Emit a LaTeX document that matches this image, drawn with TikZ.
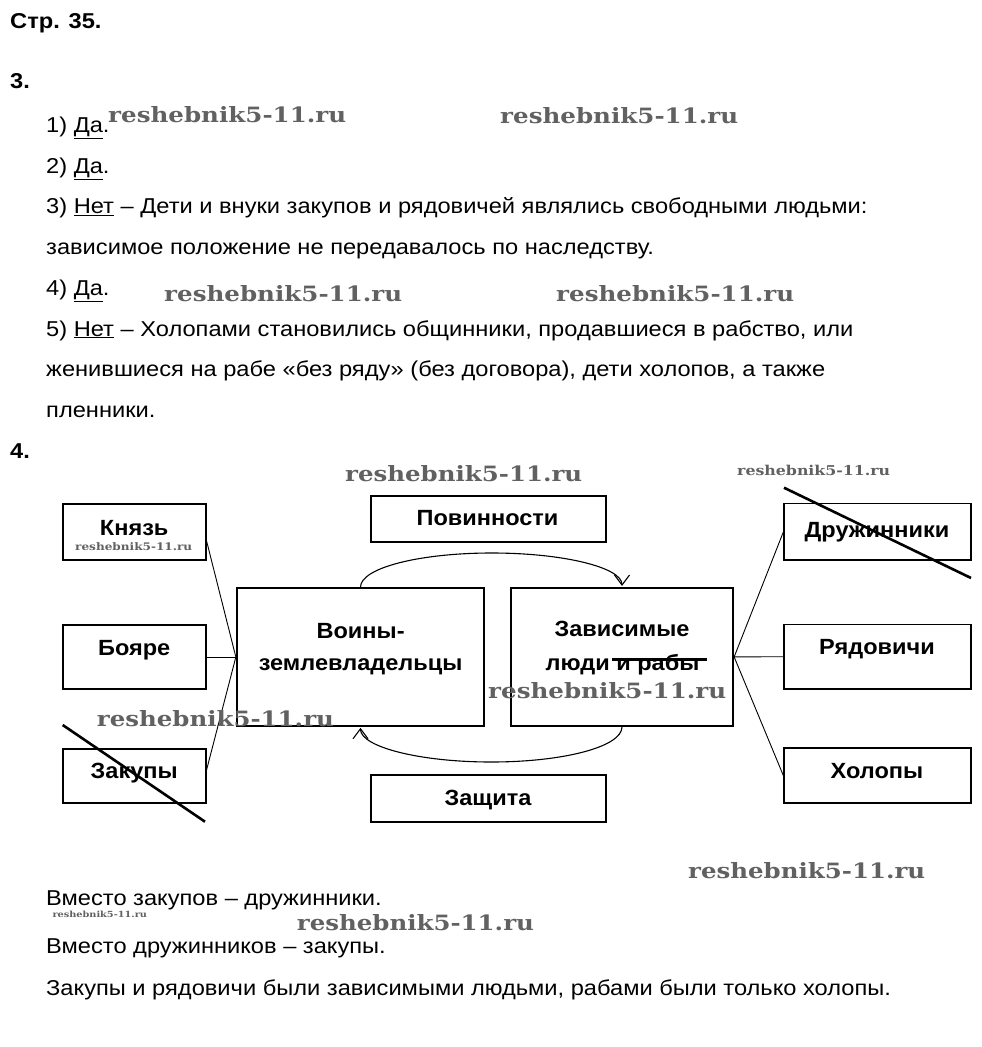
\documentclass[tikz,border=0pt]{standalone}
\usepackage{fontspec}
\setmainfont{Liberation Sans}[FakeStretch=1.1]
\newfontfamily\boxfont{Liberation Sans}[FakeStretch=1.07]
\newfontfamily\wmfont{DejaVu Serif}
\usetikzlibrary{arrows.meta}
\newcommand{\wmark}[2]{\resizebox{#1pt}{#2pt}{\wmfont\bfseries reshebnik5-11.ru}}
\begin{document}
\begin{tikzpicture}[x=1pt, y=-1pt,
  txt/.style={anchor=base west, inner sep=0pt, font=\fontsize{21.5}{25}\selectfont},
  hdr/.style={anchor=base west, inner sep=0pt, font=\fontsize{21.5}{25}\selectfont\bfseries},
  box/.style={draw, line width=1.7pt, inner sep=0pt},
  boxtxt/.style={anchor=base, inner sep=0pt, font=\boxfont\fontsize{22}{26}\selectfont\bfseries},
  link/.style={line width=0.9pt},
  flow/.style={line width=1.1pt, -{Straight Barb[length=10pt,width=15pt]}},
  strike/.style={line width=2.6pt},
  wm/.style={anchor=base west, inner sep=0pt, text=black!62}]
\fill[white] (0,0) rectangle (982,1047);
\useasboundingbox (0,0) rectangle (982,1047);

% headers and text
\node[hdr] (h1) at (10,28.3) {Стр. 35.};
\node[hdr] (h3) at (10,88.3) {3.};
\node[txt] (l1) at (46,132.5) {1) \underline{Да}.};
\node[txt] (l2) at (46,173.2) {2) \underline{Да}.};
\node[txt] (l3) at (46,213.9) {3) \underline{Нет} – Дети и внуки закупов и рядовичей являлись свободными людьми:};
\node[txt] (l4) at (46,254.6) {зависимое положение не передавалось по наследству.};
\node[txt] (l5) at (46,295.3) {4) \underline{Да}.};
\node[txt] (l6) at (46,336) {5) \underline{Нет} – Холопами становились общинники, продавшиеся в рабство, или};
\node[txt] (l7) at (46,376.7) {женившиеся на рабе «без ряду» (без договора), дети холопов, а также};
\node[txt] (l8) at (46,417.4) {пленники.};
\node[hdr] (h4) at (10,458.3) {4.};

% boxes
\node[box, minimum width=143pt, minimum height=56pt] (knyaz) at (134.2,532) {};
\node[box, minimum width=143pt, minimum height=64pt] (boyare) at (134.2,657) {};
\node[box, minimum width=143pt, minimum height=54pt] (zakupy) at (134.2,776) {};
\node[box, minimum width=247.6pt, minimum height=138pt] (voiny) at (360.5,657) {};
\node[box, minimum width=235.3pt, minimum height=46pt] (povin) at (488.4,519) {};
\node[box, minimum width=235.3pt, minimum height=47pt] (zashch) at (488.4,798.5) {};
\node[box, minimum width=222.6pt, minimum height=138.3pt] (zavis) at (622,656.9) {};
\node[box, minimum width=187pt, minimum height=56.7pt] (druzh) at (877.8,531.7) {};
\node[box, minimum width=187pt, minimum height=64.7pt] (ryad) at (877.8,656.7) {};
\node[box, minimum width=187pt, minimum height=55pt] (kholop) at (877.8,775.8) {};

% box texts
\node[boxtxt] (tknyaz) at (134.2,535) {Князь};
\node[boxtxt] (tboyare) at (134.2,655.7) {Бояре};
\node[boxtxt] (tzakupy) at (134.2,778) {Закупы};
\node[boxtxt] (tvoiny1) at (360.6,638) {Воины-};
\node[boxtxt] (tvoiny2) at (360.6,670) {землевладельцы};
\node[boxtxt] (tpovin) at (487.5,525) {Повинности};
\node[boxtxt] (tzashch) at (488,805) {Защита};
\node[boxtxt] (tzavis1) at (622,636.7) {Зависимые};
\node[boxtxt] (tzavis2) at (622.5,670) {люди и рабы};
\node[boxtxt] (tdruzh) at (877,537.3) {Дружинники};
\node[boxtxt] (tryad) at (877,654) {Рядовичи};
\node[boxtxt] (tkholop) at (877,778.3) {Холопы};

% connectors
\draw[link] ([yshift=20pt]knyaz.south east) -- (voiny.west);
\draw[link] (boyare.east) -- (voiny.west);
\draw[link] ([yshift=6pt]zakupy.east) -- (voiny.west);
\draw[link] (zavis.east) -- (druzh.west);
\draw[link] (zavis.east) -- (ryad.west);
\draw[link] (zavis.east) -- (kholop.west);

% flow arcs
\coordinate (toptop) at (491.75,553);
\coordinate (botbot) at (491.25,762);
\draw[flow] (voiny.north) .. controls ([yshift=19.3pt]voiny.north) and ([xshift=-72.2pt]toptop) .. (toptop)
  .. controls ([xshift=72.2pt]toptop) and ([yshift=19.3pt]zavis.north) .. ([yshift=1pt]zavis.north);
\draw[flow] (zavis.south) .. controls ([yshift=-19.9pt]zavis.south) and ([xshift=72.2pt]botbot) .. (botbot)
  .. controls ([xshift=-72.2pt]botbot) and ([yshift=-19.9pt]voiny.south) .. ([yshift=-1pt]voiny.south);

% strike-outs
\coordinate (sz1) at (62.7,725);
\coordinate (sz2) at (205,821.7);
\coordinate (sd1) at (784,487.7);
\coordinate (sd2) at (971,578);
\coordinate (sr1) at (612,659.5);
\coordinate (sr2) at (707,659.5);
\draw[strike] (sz1) -- (sz2);
\draw[strike] (sd1) -- (sd2);
\draw[strike, line width=3.4pt] (sr1) -- (sr2);

% bottom text
\node[txt] (b1) at (46,905.7) {Вместо закупов – дружинники.};
\node[txt] (b2) at (46,953) {Вместо дружинников – закупы.};
\node[txt] (b3) at (46,995) {Закупы и рядовичи были зависимыми людьми, рабами были только холопы.};

% watermarks
\node[wm] (w1) at (108,122.7) {\wmark{238}{16}};
\node[wm] (w2) at (500,123) {\wmark{238}{16}};
\node[wm] (w3) at (164,301.7) {\wmark{238}{16}};
\node[wm] (w4) at (556,301.7) {\wmark{238}{16}};
\node[wm] (w5) at (345,481.7) {\wmark{237}{16}};
\node[wm] (w6) at (737,475) {\wmark{153}{10.3}};
\node[wm] (w7) at (75,550.7) {\wmark{117}{7.9}};
\node[wm] (w8) at (96.7,726.7) {\wmark{237}{16}};
\node[wm] (w9) at (488,698.3) {\wmark{238}{16}};
\node[wm] (w10) at (688,878.3) {\wmark{237}{16}};
\node[wm] (w11) at (52.3,917.3) {\wmark{94.5}{6.4}};
\node[wm] (w12) at (296.7,930) {\wmark{237}{16}};
\end{tikzpicture}
\end{document}
